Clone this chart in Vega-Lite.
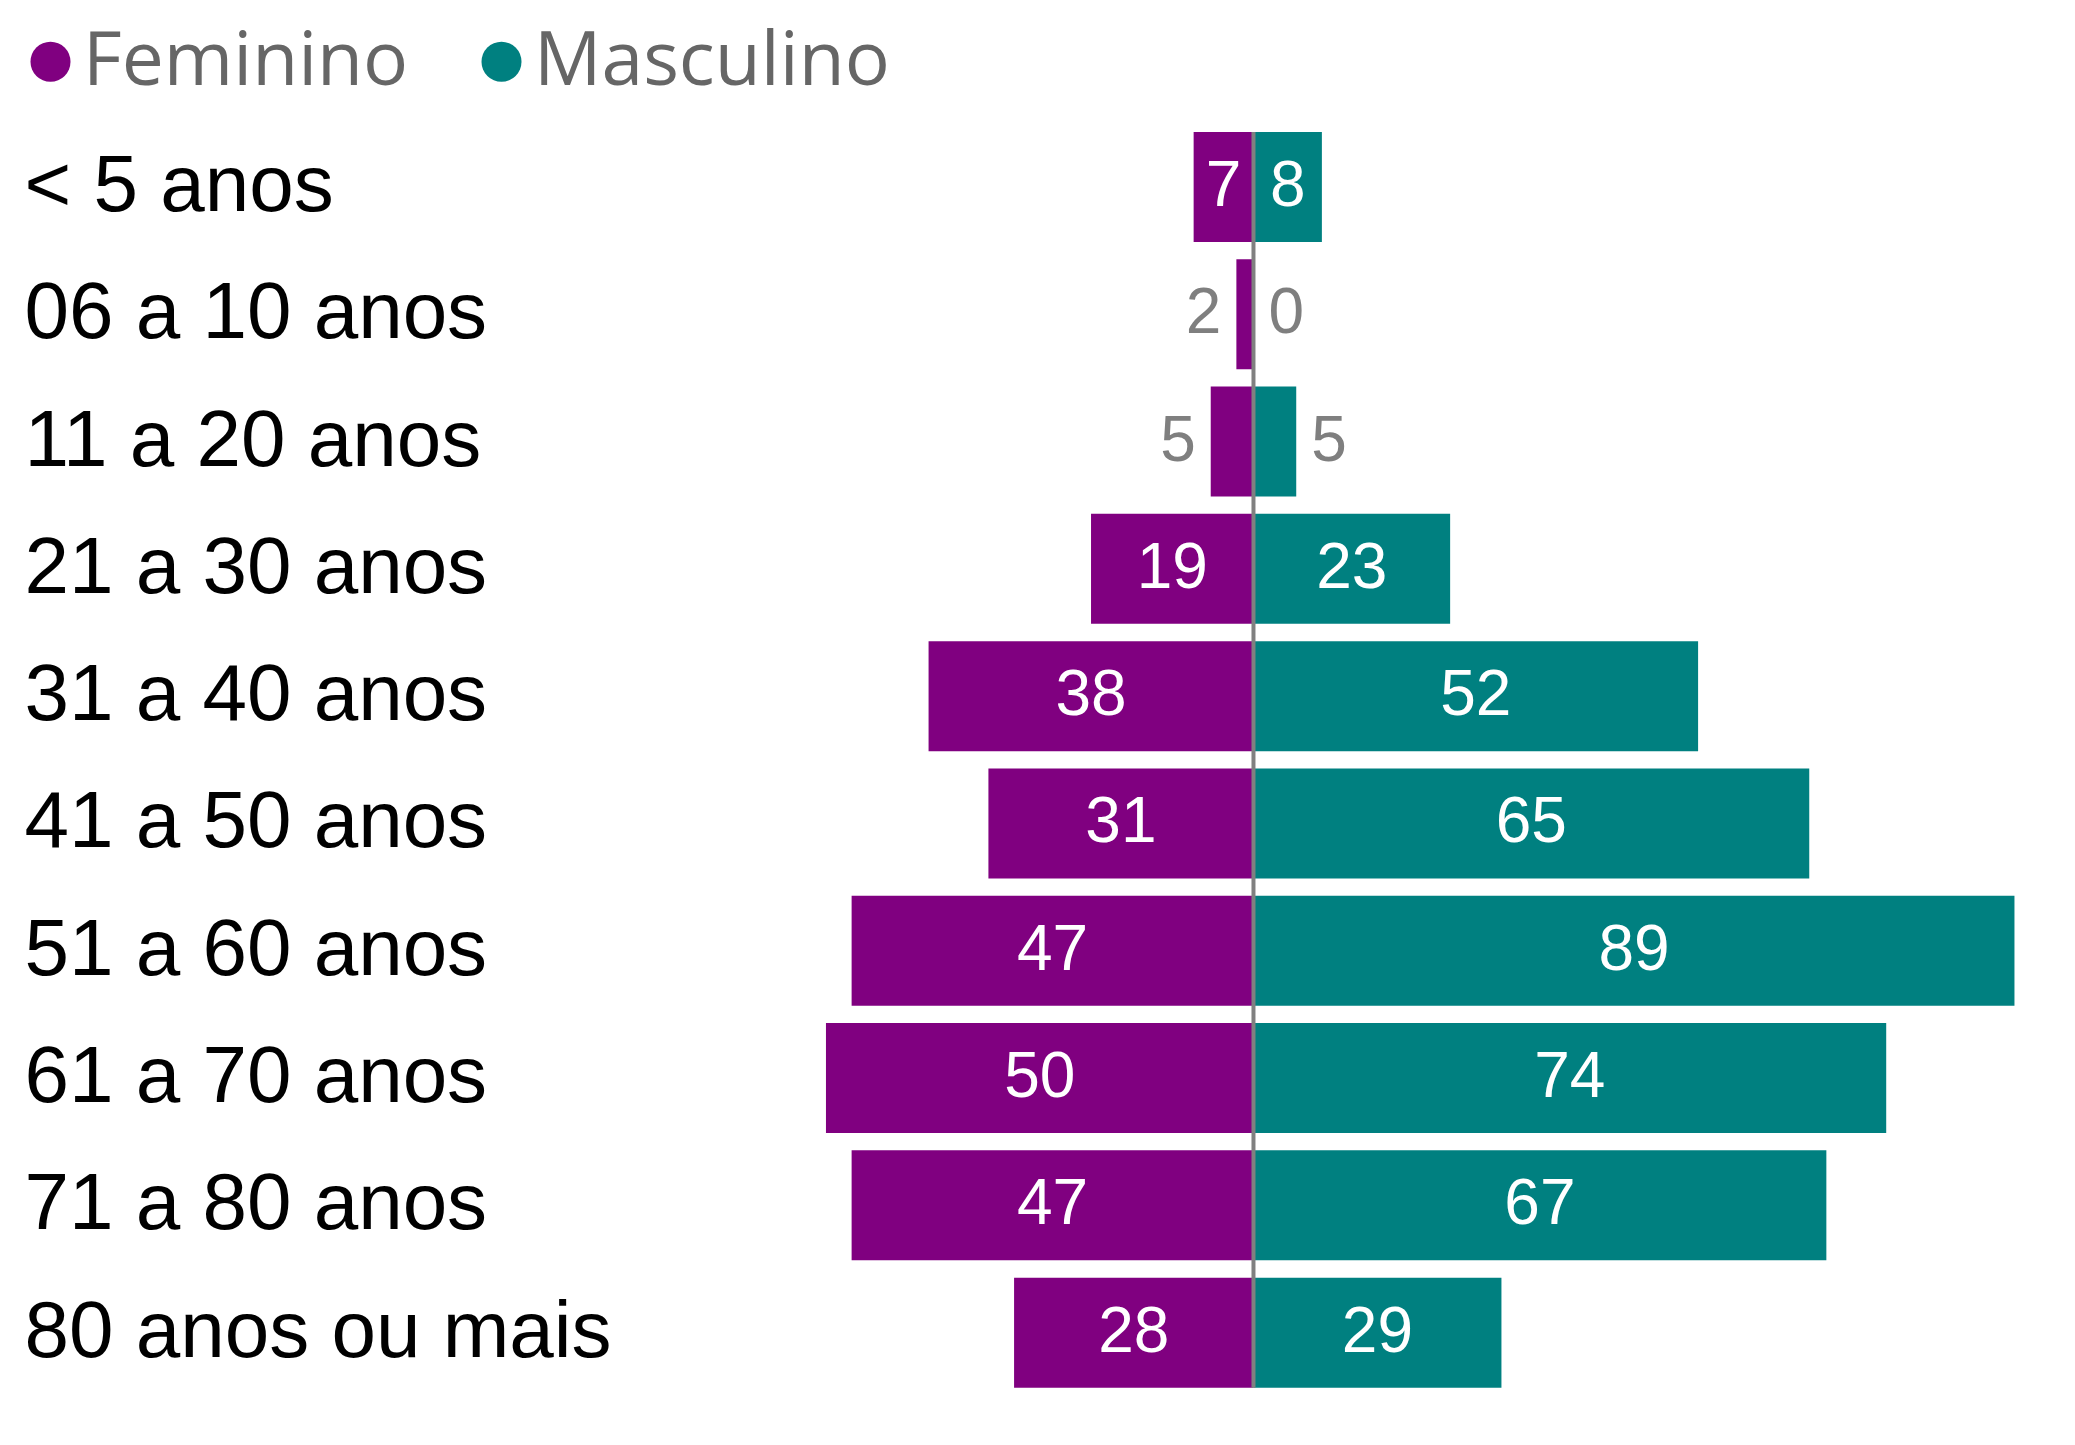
{
  "$schema": "https://vega.github.io/schema/vega-lite/v6.json",
  "width": 2075,
  "height": 1445,
  "autosize": {"type": "none"},
  "padding": 0,
  "background": "#ffffff",
  "config": {
    "view": {"stroke": null},
    "axis": {"grid": false, "domain": false, "ticks": false}
  },
  "datasets": {
    "pop": [
      {"age": "< 5 anos", "sex": "Feminino", "value": 7},
      {"age": "< 5 anos", "sex": "Masculino", "value": 8},
      {"age": "06 a 10 anos", "sex": "Feminino", "value": 2},
      {"age": "06 a 10 anos", "sex": "Masculino", "value": 0},
      {"age": "11 a 20 anos", "sex": "Feminino", "value": 5},
      {"age": "11 a 20 anos", "sex": "Masculino", "value": 5},
      {"age": "21 a 30 anos", "sex": "Feminino", "value": 19},
      {"age": "21 a 30 anos", "sex": "Masculino", "value": 23},
      {"age": "31 a 40 anos", "sex": "Feminino", "value": 38},
      {"age": "31 a 40 anos", "sex": "Masculino", "value": 52},
      {"age": "41 a 50 anos", "sex": "Feminino", "value": 31},
      {"age": "41 a 50 anos", "sex": "Masculino", "value": 65},
      {"age": "51 a 60 anos", "sex": "Feminino", "value": 47},
      {"age": "51 a 60 anos", "sex": "Masculino", "value": 89},
      {"age": "61 a 70 anos", "sex": "Feminino", "value": 50},
      {"age": "61 a 70 anos", "sex": "Masculino", "value": 74},
      {"age": "71 a 80 anos", "sex": "Feminino", "value": 47},
      {"age": "71 a 80 anos", "sex": "Masculino", "value": 67},
      {"age": "80 anos ou mais", "sex": "Feminino", "value": 28},
      {"age": "80 anos ou mais", "sex": "Masculino", "value": 29}
    ],
    "axisline": [
      {"top": "< 5 anos", "bottom": "80 anos ou mais"}
    ]
  },
  "layer": [
    {
      "data": {"name": "pop"},
      "transform": [
        {"calculate": "datum.sex == 'Feminino' ? -datum.value : datum.value", "as": "signed"}
      ],
      "mark": {"type": "bar"},
      "encoding": {
        "x": {
          "field": "signed", "type": "quantitative",
          "scale": {"domain": [-146.6, 96.08], "nice": false, "zero": false},
          "axis": null
        },
        "y": {
          "field": "age", "type": "nominal",
          "scale": {
            "domain": ["< 5 anos", "06 a 10 anos", "11 a 20 anos", "21 a 30 anos", "31 a 40 anos", "41 a 50 anos", "51 a 60 anos", "61 a 70 anos", "71 a 80 anos", "80 anos ou mais"],
            "paddingInner": 0.136, "paddingOuter": 0.7435, "align": 0.697
          },
          "axis": {
            "title": null,
            "orient": "left",
            "labelAlign": "left",
            "labelBaseline": "middle",
            "labelPadding": -24,
            "labelLimit": 2000,
            "labelFont": "Liberation Sans",
            "labelFontSize": 80,
            "labelColor": "#000000"
          }
        },
        "color": {
          "field": "sex", "type": "nominal",
          "scale": {"domain": ["Feminino", "Masculino"], "range": ["#800080", "#008080"]},
          "legend": {
            "title": null,
            "orient": "none",
            "direction": "horizontal",
            "legendX": 13,
            "legendY": 24,
            "offset": 0,
            "padding": 0,
            "symbolType": "circle",
            "symbolSize": 1600,
            "symbolStrokeWidth": 0,
            "labelFont": "Segoe UI, Open Sans, sans-serif",
            "labelFontSize": 75,
            "labelColor": "#666666",
            "labelOffset": -5,
            "labelLimit": 1000,
            "columnPadding": 55
          }
        }
      }
    },
    {
      "data": {"name": "pop"},
      "transform": [
        {"filter": "datum.value >= 6"},
        {"calculate": "(datum.sex == 'Feminino' ? -datum.value : datum.value) / 2", "as": "mid"}
      ],
      "mark": {"type": "text", "font": "Liberation Sans", "fontSize": 64, "color": "#ffffff", "align": "center", "baseline": "middle"},
      "encoding": {
        "x": {"field": "mid", "type": "quantitative"},
        "y": {"field": "age", "type": "nominal"},
        "text": {"field": "value", "type": "quantitative"}
      }
    },
    {
      "data": {"name": "pop"},
      "transform": [
        {"filter": "datum.value < 6 && datum.sex == 'Feminino'"},
        {"calculate": "-datum.value", "as": "signed"}
      ],
      "mark": {"type": "text", "font": "Liberation Sans", "fontSize": 64, "color": "#7f7f7f", "align": "right", "baseline": "middle", "dx": -15},
      "encoding": {
        "x": {"field": "signed", "type": "quantitative"},
        "y": {"field": "age", "type": "nominal"},
        "text": {"field": "value", "type": "quantitative"}
      }
    },
    {
      "data": {"name": "pop"},
      "transform": [
        {"filter": "datum.value < 6 && datum.sex == 'Masculino'"}
      ],
      "mark": {"type": "text", "font": "Liberation Sans", "fontSize": 64, "color": "#7f7f7f", "align": "left", "baseline": "middle", "dx": 15},
      "encoding": {
        "x": {"field": "value", "type": "quantitative"},
        "y": {"field": "age", "type": "nominal"},
        "text": {"field": "value", "type": "quantitative"}
      }
    },
    {
      "data": {"name": "axisline"},
      "mark": {"type": "rule", "color": "#808080", "strokeWidth": 4},
      "encoding": {
        "x": {"datum": 0, "type": "quantitative"},
        "y": {"field": "top", "type": "nominal", "bandPosition": 0},
        "y2": {"field": "bottom", "bandPosition": 1}
      }
    }
  ]
}
